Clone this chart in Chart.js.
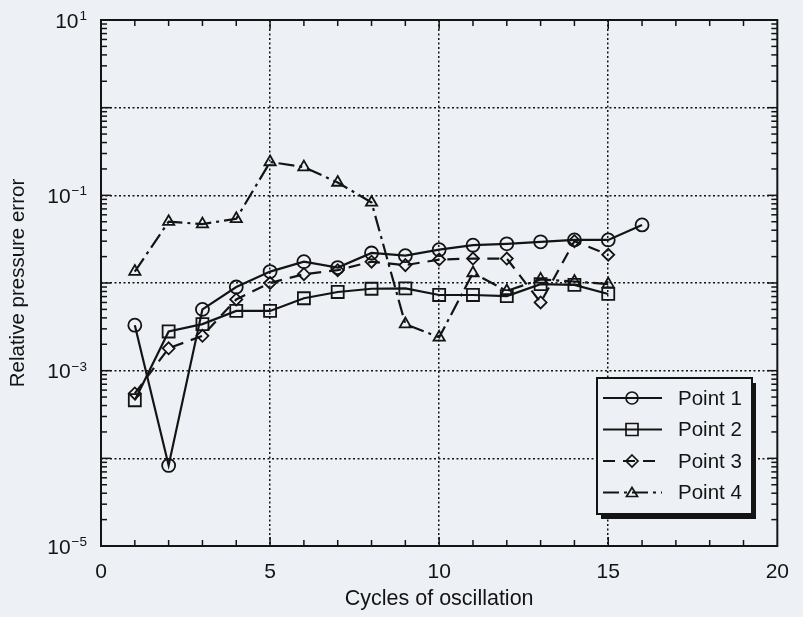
<!DOCTYPE html>
<html>
<head>
<meta charset="utf-8">
<script src="https://cdn.jsdelivr.net/npm/chart.js@4.4.1/dist/chart.umd.min.js"></script>
<style>
  html, body { margin:0; padding:0; background:#edf0f5; }
  #wrap { width:803px; height:617px; position:relative; }
</style>
</head>
<body>
<div id="wrap"><canvas id="chart"></canvas></div>
<script>
// ── data ──
const cycles = [1,2,3,4,5,6,7,8,9,10,11,12,13,14,15,16];
const point1 = [3.3e-3, 8.3e-5, 5.0e-3, 9.0e-3, 1.35e-2, 1.75e-2, 1.5e-2, 2.2e-2, 2.05e-2, 2.4e-2, 2.7e-2, 2.8e-2, 2.95e-2, 3.1e-2, 3.1e-2, 4.6e-2];
const point2 = [4.6e-4, 2.8e-3, 3.4e-3, 4.8e-3, 4.8e-3, 6.7e-3, 7.9e-3, 8.6e-3, 8.7e-3, 7.3e-3, 7.3e-3, 7.1e-3, 9.7e-3, 9.5e-3, 7.5e-3];
const point3 = [5.5e-4, 1.8e-3, 2.5e-3, 6.5e-3, 1.0e-2, 1.26e-2, 1.4e-2, 1.75e-2, 1.6e-2, 1.85e-2, 1.9e-2, 1.9e-2, 6.0e-3, 3.0e-2, 2.1e-2];
const point4 = [1.35e-2, 5.0e-2, 4.7e-2, 5.4e-2, 0.24, 0.21, 0.14, 8.3e-2, 3.4e-3, 2.4e-3, 1.3e-2, 8.1e-3, 1.1e-2, 1.04e-2, 9.7e-3];

const xTickValues = [0, 5, 10, 15, 20];
const yGridValues = [1, 1e-1, 1e-2, 1e-3, 1e-4];
const yTickValues = [10, 1e-1, 1e-3, 1e-5];
const yTickExps   = ['1', '\u22121', '\u22123', '\u22125'];

const INK  = '#141414';
const BG   = '#edf0f5';
const FONT = '"Liberation Sans", Arial, sans-serif';

const pts = ys => ys.map((v,i) => ({x:cycles[i], y:v}));
const ds = (label, ys, style, r, dash) => ({
  label, data:pts(ys), pointStyle:style, pointRadius:r, pointHoverRadius:r,
  borderColor:INK, backgroundColor:'transparent', pointBackgroundColor:'transparent',
  pointBorderColor:INK, pointBorderWidth:1.8, borderWidth:2.2, borderDash:dash, tension:0
});

// ── frame, inward ticks, y labels, boxed legend ──
const frame = {
  id:'frame',
  afterDraw(c) {
    const {ctx, chartArea:a, scales:{x, y}} = c;
    const line = (x1,y1,x2,y2) => { ctx.beginPath(); ctx.moveTo(x1,y1); ctx.lineTo(x2,y2); ctx.stroke(); };
    ctx.save();
    ctx.strokeStyle = INK; ctx.fillStyle = INK; ctx.setLineDash([]);
    ctx.lineWidth = 1.5;
    for (let v = 1; v < 20; v++) {
      const px = x.getPixelForValue(v), len = v % 5 ? 6 : 9;
      line(px, a.bottom, px, a.bottom - len);
      line(px, a.top, px, a.top + len);
    }
    for (let e = -5; e < 1; e++) for (let m = 1; m < 10; m++) {
      const py = y.getPixelForValue(m * 10 ** e), len = m === 1 ? 10 : 6;
      if (m === 1 && e === -5) continue;
      line(a.left, py, a.left + len, py);
      line(a.right, py, a.right - len, py);
    }
    ctx.lineWidth = 2;
    ctx.strokeRect(a.left, a.top, a.width, a.height);

    // y tick labels as 10 with raised exponent
    yTickValues.forEach((v, i) => {
      const py = y.getPixelForValue(v);
      ctx.font = '13.5px ' + FONT;
      const ew = ctx.measureText(yTickExps[i]).width;
      const right = a.left - 14;
      ctx.textAlign = 'right'; ctx.textBaseline = 'alphabetic';
      ctx.fillText(yTickExps[i], right, py);
      ctx.font = '21px ' + FONT; ctx.textBaseline = 'middle';
      ctx.fillText('10', right - ew - 1, py + 2);
    });

    // legend
    const bx = 597, by = 378, bw = 155, bh = 136;
    ctx.fillStyle = INK; ctx.fillRect(bx + 4, by + 5, bw, bh);
    ctx.fillStyle = BG;  ctx.fillRect(bx, by, bw, bh);
    ctx.lineWidth = 2; ctx.strokeRect(bx, by, bw, bh);
    c.data.datasets.forEach((d, i) => {
      const ry = by + 20 + i * 31.5;
      ctx.lineWidth = 2; ctx.setLineDash(d.borderDash || []);
      line(bx + 6, ry, bx + 65, ry);
      ctx.setLineDash([]); ctx.lineWidth = 1.7;
      const mx = bx + 35;
      ctx.beginPath();
      if (d.pointStyle === 'circle') ctx.arc(mx, ry, 6, 0, Math.PI * 2);
      else if (d.pointStyle === 'rect') ctx.rect(mx - 6, ry - 6, 12, 12);
      else if (d.pointStyle === 'rectRot') { ctx.moveTo(mx, ry - 6); ctx.lineTo(mx + 6, ry); ctx.lineTo(mx, ry + 6); ctx.lineTo(mx - 6, ry); ctx.closePath(); }
      else { ctx.moveTo(mx, ry - 5); ctx.lineTo(mx + 5.5, ry + 4); ctx.lineTo(mx - 5.5, ry + 4); ctx.closePath(); }
      ctx.stroke();
      ctx.fillStyle = INK; ctx.font = '20.5px ' + FONT;
      ctx.textAlign = 'left'; ctx.textBaseline = 'middle';
      ctx.fillText(d.label, bx + 81, ry + 1);
    });
    ctx.restore();
  }
};

new Chart(document.getElementById('chart'), {
  type:'line',
  data:{ datasets:[
    ds('Point 1', point1, 'circle', 6.5, []),
    ds('Point 2', point2, 'rect', 8.5, []),
    ds('Point 3', point3, 'rectRot', 6, [12, 8]),
    ds('Point 4', point4, 'triangle', 6.5, [16, 5, 3, 5]),
  ]},
  options:{
    responsive:true, maintainAspectRatio:false, animation:false,
    layout:{ padding:{ top:20, right:22, left:0, bottom:0 } },
    plugins:{ legend:{display:false}, tooltip:{enabled:false} },
    scales:{
      x:{
        type:'linear', min:0, max:20,
        afterBuildTicks: s => { s.ticks = xTickValues.map(v => ({value:v})); },
        afterFit: s => { s.height = 71; },
        grid:{ color: cx => (cx.tick && (cx.tick.value === 0 || cx.tick.value === 20)) ? 'transparent' : INK, lineWidth:1.5, drawTicks:false },
        border:{ display:false, dash:[2, 2.5] },
        ticks:{ color:INK, font:{family:FONT, size:21}, padding:14, maxRotation:0 },
        title:{ display:true, text:'Cycles of oscillation', color:INK, font:{family:FONT, size:21.5}, padding:{top:0, bottom:5} }
      },
      y:{
        type:'logarithmic', min:1e-5, max:10,
        afterBuildTicks: s => { s.ticks = yGridValues.map(v => ({value:v})); },
        afterFit: s => { s.width = 101; },
        grid:{ color:INK, lineWidth:1.5, drawTicks:false },
        border:{ display:false, dash:[2, 2.5] },
        ticks:{ display:false },
        title:{ display:true, text:'Relative pressure error', color:INK, font:{family:FONT, size:20.5}, padding:{top:6, bottom:0} }
      }
    }
  },
  plugins:[frame]
});
</script>
</body>
</html>
